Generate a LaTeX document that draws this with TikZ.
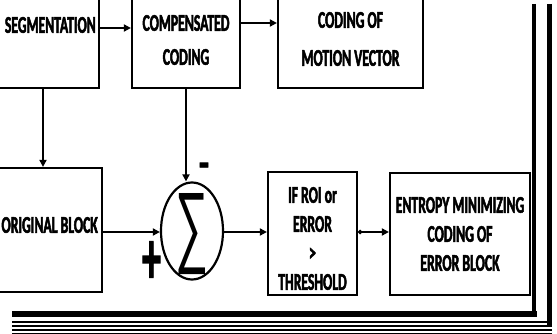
\documentclass[tikz,border=0pt]{standalone}
\usepackage{fontspec}
\newfontfamily\df[FakeStretch=0.57,BoldFeatures={FakeBold=2}]{Carlito}
\newfontfamily\symf[BoldFeatures={FakeBold=2}]{Carlito}
\newfontfamily\sigf{Liberation Sans}
\usetikzlibrary{arrows.meta,shapes.geometric}
\begin{document}
\begin{tikzpicture}[x=1pt,y=-1pt,
  box/.style={draw,line width=2.2pt,rectangle,inner sep=0},
  lbl/.style={font=\df\bfseries\fontsize{24}{29}\selectfont,align=center,inner sep=0},
  arr/.style={line width=2pt,-{Triangle[length=7pt,width=7pt]}},
  frame/.style={line width=#1},
]
\useasboundingbox (0,0) rectangle (557,334);
% boxes
\node[box,minimum width=119,minimum height=98] (seg) at (39.5,39) {};
\node[box,minimum width=108,minimum height=98] (comp) at (186,39) {};
\node[box,minimum width=145,minimum height=98] (mv) at (350.5,39) {};
\node[box,minimum width=122,minimum height=124] (orig) at (41,230) {};
\node[draw,ellipse,line width=2.2pt,minimum width=62,minimum height=97,inner sep=0] (sum) at (192,231) {};
\node[box,minimum width=89,minimum height=123] (thr) at (312.5,233.5) {};
\node[box,minimum width=140,minimum height=122] (ent) at (460,234) {};
% labels
\node[lbl,anchor=east] (segt) at (96,25) {SEGMENTATION};
\node[lbl,font=\df\bfseries\fontsize{24}{34}\selectfont] (compt) at (186,40) {COMPENSATED\\CODING};
\node[lbl,font=\df\bfseries\fontsize{24}{38}\selectfont] (mvt) at (350.5,39) {CODING OF\\MOTION VECTOR};
\node[lbl,anchor=east] (origt) at (98,225) {ORIGINAL BLOCK};
\node[lbl] (thrt) at (312.5,238.5) {IF ROI or\\ERROR\\>\\THRESHOLD};
\node[lbl] (entt) at (460,234) {ENTROPY MINIMIZING\\CODING OF\\ERROR BLOCK};
\node[inner sep=0] (sig) at (191.5,234) {\resizebox{33pt}{62pt}{\sigf ∑}};
\node[inner sep=0,font=\symf\bfseries\fontsize{30}{30}\selectfont] (minus) at (204,170) {\scalebox{1.1}[1.4]{-}};
\node[inner sep=0,font=\symf\fontsize{30}{30}\selectfont] (plus) at (151.5,262.5) {\scalebox{1.25}[2.5]{\bfseries +}};
% connectors
\draw[arr] (seg.east |- 0,28) -- (comp.west |- 0,28);
\draw[arr] (comp.east |- 0,23) -- (mv.west |- 0,23);
\draw[arr] (seg.south -| 43,0) -- (orig.north -| 43,0);
\draw[arr] (comp.south) -- (comp.south |- sum.north);
\draw[arr] (orig.east |- 0,232) -- (sum.west |- 0,232);
\draw[arr] (sum.east |- 0,232) -- (thr.west |- 0,232);
\draw[line width=2pt,{Circle[length=4pt]}-{Triangle[length=7pt,width=7pt]}] (thr.east |- 0,232) -- (ent.west |- 0,232);
% frame
\draw[frame=6pt] (12,313.5) -- (537,313.5);
\draw[frame=4pt] (534,4) -- (534,316.5);
\draw[frame=4.5pt] (549.5,4) -- (549.5,327);
\draw[frame=1.5pt] (12,322) -- (552,322);
\draw[frame=1.2pt] (12,326) -- (552,326);
\draw[frame=1.5pt] (12,330) -- (552,330);
\draw[frame=1.2pt] (12,333.5) -- (552,333.5);
\end{tikzpicture}
\end{document}
